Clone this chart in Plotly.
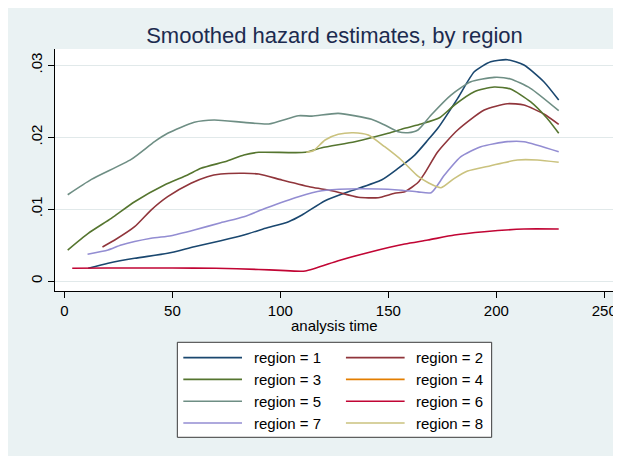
import plotly.graph_objects as go

# ---------------- data ----------------
region_names = ["region = 1", "region = 2", "region = 3", "region = 4",
                "region = 5", "region = 6", "region = 7", "region = 8"]
region_colors = ["#1a476f", "#90353b", "#55752f", "#e37e00",
                 "#6e8e84", "#c10534", "#938dd2", "#cac27e"]

r1_x = [11, 20.2, 32.5, 47.8, 60.1, 72.4, 83.1, 93.1, 103.8, 110, 120.7, 131.5, 146.8, 154.5,
        162.2, 168.3, 172.9, 182.1, 189.8, 197.4, 205.1, 212.8, 222, 228.9]
r1_y = [0.00177, 0.00246, 0.00316, 0.00385, 0.00477, 0.00561, 0.0064, 0.00733, 0.00825, 0.00918,
        0.01117, 0.01242, 0.01405, 0.01567, 0.01752, 0.0196, 0.02124, 0.02541, 0.02911, 0.0305,
        0.03078, 0.03004, 0.02772, 0.02517]

r2_x = [17.6, 23.3, 32.5, 40.1, 47.8, 58.6, 66.2, 72.4, 83.1, 90, 100.7, 114.6, 123.8, 136.1,
        145.3, 152.9, 157.6, 163.7, 166.8, 172.9, 182.1, 194.4, 205.1, 212.8, 222, 228.9]
r2_y = [0.00473, 0.0057, 0.00755, 0.00987, 0.01173, 0.01359, 0.01451, 0.01488, 0.01498, 0.01488,
        0.01405, 0.01303, 0.01256, 0.01164, 0.01159, 0.0122, 0.01242, 0.0137, 0.01498, 0.01798,
        0.021, 0.02378, 0.02466, 0.02448, 0.02323, 0.02179]

r3_x = [1.5, 11, 21.7, 32.5, 46.3, 57, 63.2, 75.4, 83.1, 90, 111.5, 119.2, 134.5, 149.9, 157.6,
        165.2, 173.7, 180.6, 189.8, 199, 206.6, 215.8, 223.5, 228.9]
r3_y = [0.00431, 0.00663, 0.00872, 0.01103, 0.01335, 0.01474, 0.01567, 0.01669, 0.01752, 0.0179,
        0.0179, 0.01854, 0.01938, 0.02054, 0.02124, 0.02184, 0.02271, 0.02448, 0.02633, 0.02698,
        0.0267, 0.02494, 0.02263, 0.02054]

r4_x = []
r4_y = []

r5_x = [1.5, 12.5, 30.9, 41.7, 47.8, 60.1, 69.3, 83.1, 94.6, 108.4, 114.6, 126.8, 142.2, 148.3,
        154.5, 159.1, 163.7, 169.8, 179, 188.2, 199, 206.6, 215.8, 228.9]
r5_y = [0.012, 0.01414, 0.01692, 0.01938, 0.02054, 0.02207, 0.02239, 0.02207, 0.02184, 0.02299,
        0.02294, 0.02332, 0.02249, 0.0217, 0.02077, 0.02063, 0.021, 0.02309, 0.02587, 0.02772,
        0.02833, 0.0281, 0.0268, 0.02369]

r6_x = [3.6, 20, 50, 70, 90, 100, 111.5, 126.8, 142.2, 157.6, 168.3, 180.6, 194.4, 212.8, 228.9]
r6_y = [0.00177, 0.0018, 0.0018, 0.00177, 0.0016, 0.00148, 0.00139, 0.00282, 0.00408, 0.00515,
        0.0057, 0.0064, 0.00686, 0.00723, 0.00723]

r7_x = [10.7, 20.2, 26.3, 40.1, 49.4, 60.1, 72.4, 83.1, 93.1, 108.4, 119.2, 131.5, 145.3, 154.5,
        163.7, 169.8, 176, 183.6, 192.8, 205.1, 212.8, 228.9]
r7_y = [0.00371, 0.00431, 0.005, 0.00594, 0.0063, 0.00709, 0.00811, 0.00894, 0.01011, 0.01173,
        0.01256, 0.0128, 0.0128, 0.01266, 0.0124, 0.01228, 0.01474, 0.01729, 0.01868, 0.01938,
        0.01938, 0.01798]

r8_x = [112, 115.3, 120.7, 126.8, 133.7, 140.7, 148.3, 156, 163.7, 168.3, 174.4, 180.6, 186.7,
        197.4, 209.7, 218.9, 228.9]
r8_y = [0.0179, 0.01812, 0.01961, 0.0204, 0.02063, 0.02031, 0.01868, 0.01683, 0.01458, 0.0137,
        0.01298, 0.01428, 0.0153, 0.01604, 0.01683, 0.01683, 0.01651]

series_x = [r1_x, r2_x, r3_x, r4_x, r5_x, r6_x, r7_x, r8_x]
series_y = [r1_y, r2_y, r3_y, r4_y, r5_y, r6_y, r7_y, r8_y]

x_ticks = [0, 50, 100, 150, 200, 250]
y_ticks = [0, 0.01, 0.02, 0.03]
y_tick_labels = ["0", ".01", ".02", ".03"]

title_text = "Smoothed hazard estimates, by region"
x_title = "analysis time"

# ---------------- figure ----------------
# the page adds an 8px body margin; layout positions below are in page pixels
OFF = 8
W, H = 621, 456
PL, PR, PT, PB = 55, 617, 49, 291          # plot box on the page
ML, MT = PL - OFF, PT - OFF
MR = W - (PR - OFF)
MB = H - (PB - OFF)
PW, PH = PR - PL, PB - PT
FONT = "Liberation Sans, Arial, sans-serif"


def xp(px):
    return (px - PL) / PW


def yp(py):
    return (PB - py) / PH


fig = go.Figure()
for name, color, xs, ys in zip(region_names, region_colors, series_x, series_y):
    fig.add_trace(go.Scatter(x=xs, y=ys, mode="lines", name=name,
                             line=dict(color=color, width=1.6, shape="spline", smoothing=0.6),
                             showlegend=False))

shapes = []
annotations = []

# legend box
shapes.append(dict(type="rect", xref="paper", yref="paper",
                   x0=xp(178), x1=xp(494), y0=yp(437.3), y1=yp(342.3),
                   fillcolor="white", line=dict(color="#3a3a3a", width=1), layer="above"))
col_line_x = [184, 347.5]
col_text_x = [253, 416]
for i, (name, color) in enumerate(zip(region_names, region_colors)):
    row, col = divmod(i, 2)
    y = 357.6 + 21.8 * row
    shapes.append(dict(type="line", xref="paper", yref="paper",
                       x0=xp(col_line_x[col]), x1=xp(col_line_x[col] + 59),
                       y0=yp(y), y1=yp(y), line=dict(color=color, width=1.6), layer="above"))
    annotations.append(dict(text=name, xref="paper", yref="paper", x=xp(col_text_x[col]),
                            y=yp(y), xanchor="left", yanchor="middle", showarrow=False,
                            font=dict(family=FONT, size=15, color="black")))

# x axis title
annotations.append(dict(text=x_title, xref="paper", yref="paper", x=xp(336), y=yp(325),
                        xanchor="center", yanchor="middle", showarrow=False,
                        font=dict(family=FONT, size=15, color="black")))

fig.update_layout(
    width=W, height=H, autosize=False,
    margin=dict(l=ML, r=MR, t=MT, b=MB, pad=0),
    paper_bgcolor="#eaf2f3", plot_bgcolor="white",
    font=dict(family=FONT, size=15, color="black"),
    title=dict(text=title_text, x=xp(336), xref="paper", xanchor="center",
               y=1 - (35 - OFF) / H, yref="container", yanchor="middle",
               font=dict(family=FONT, size=22, color="#1c2b4f")),
    shapes=shapes, annotations=annotations,
    showlegend=False,
)
fig.update_xaxes(range=[-4.38, 254.5], tickvals=x_ticks, ticks="outside", ticklen=6,
                 tickcolor="black", showline=True, linecolor="black", linewidth=1,
                 showgrid=False, zeroline=False, tickfont=dict(size=15))
fig.update_yaxes(range=[-0.00139, 0.03227], tickvals=y_ticks, ticktext=y_tick_labels,
                 tickangle=-90, ticks="outside", ticklen=6, tickcolor="black",
                 showline=True, linecolor="black", linewidth=1,
                 showgrid=True, gridcolor="#e1e9ea", gridwidth=1, zeroline=False,
                 tickfont=dict(size=15))

fig.write_html("out.html")
